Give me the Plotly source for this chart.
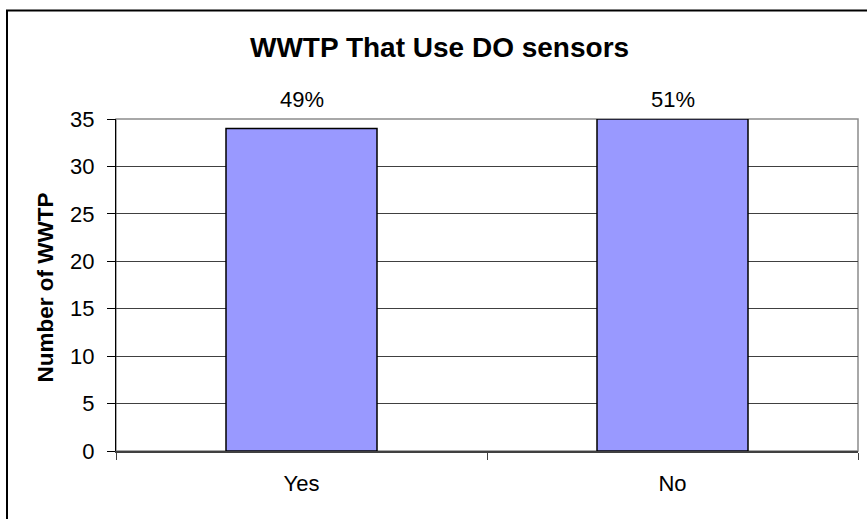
import plotly.graph_objects as go

# Survey counts: wastewater treatment plants that use dissolved-oxygen sensors
categories = ["Yes", "No"]
plant_counts = [34, 35]
y_tick_values = [0, 5, 10, 15, 20, 25, 30, 35]

total = sum(plant_counts)
percent_labels = [f"{round(100 * c / total)}%" for c in plant_counts]

W, H = 867, 519
L, R, T, B = 116, 9, 118.5, 68.3
plot_w = W - L - R
plot_h = H - T - B

def px_to_paper_x(px):
    return (px - L) / plot_w

def px_to_paper_y(py):
    return (H - B - py) / plot_h

FONT = "Liberation Sans, Arial, sans-serif"

fig = go.Figure()
fig.add_trace(go.Bar(
    x=categories,
    y=plant_counts,
    width=0.407,
    marker=dict(color="#9999FF", line=dict(color="#000000", width=1.5)),
    hoverinfo="x+y",
))

annotations = []
# percentage labels share one row just above the plot area
for cat, lab in zip(categories, percent_labels):
    annotations.append(dict(
        x=cat, y=1, xref="x", yref="paper", text=lab, showarrow=False,
        yanchor="bottom", yshift=5, font=dict(family=FONT, size=22, color="#000000"),
    ))

annotations.append(dict(
    x=px_to_paper_x(45), y=px_to_paper_y(287), xref="paper", yref="paper",
    text="<b>Number of WWTP</b>", textangle=-90, showarrow=False,
    xanchor="center", yanchor="middle",
    font=dict(family=FONT, size=22.5, color="#000000"),
))

annotations.append(dict(
    x=px_to_paper_x(439), y=px_to_paper_y(47), xref="paper", yref="paper",
    text="<b>WWTP That Use DO sensors</b>", showarrow=False,
    xanchor="center", yanchor="middle",
    font=dict(family=FONT, size=28, color="#000000"),
))

shapes = [
    # plot-area frame
    dict(type="rect", xref="paper", yref="paper", x0=0, y0=0, x1=1, y1=1,
         line=dict(color="#8c8c8c", width=1.5), layer="below"),
    # chart-area frame
    dict(type="rect", xref="paper", yref="paper",
         x0=px_to_paper_x(7), y0=px_to_paper_y(560),
         x1=px_to_paper_x(900), y1=px_to_paper_y(10),
         line=dict(color="#000000", width=2), layer="above"),
]

fig.update_layout(
    width=W, height=H,
    margin=dict(l=L, r=R, t=T, b=B, pad=0),
    paper_bgcolor="#FFFFFF", plot_bgcolor="#FFFFFF",
    showlegend=False,
    bargap=0.593,
    font=dict(family=FONT, size=22, color="#000000"),
    annotations=annotations,
    shapes=shapes,
)

fig.update_xaxes(
    type="category",
    showline=True, linecolor="#404040", linewidth=2,
    ticks="outside", tickson="boundaries", ticklen=7, tickcolor="#404040", tickwidth=1,
    showgrid=False, ticklabelstandoff=12,
    tickfont=dict(family=FONT, size=22, color="#000000"),
)

fig.update_yaxes(
    range=[0, 35],
    tickvals=y_tick_values,
    showline=True, linecolor="#000000", linewidth=1,
    ticks="outside", ticklen=8, tickcolor="#000000", tickwidth=1,
    showgrid=True, gridcolor="#404040", gridwidth=1,
    zeroline=False, ticklabelstandoff=8,
    tickfont=dict(family=FONT, size=22, color="#000000"),
)

fig.write_html("out.html")
